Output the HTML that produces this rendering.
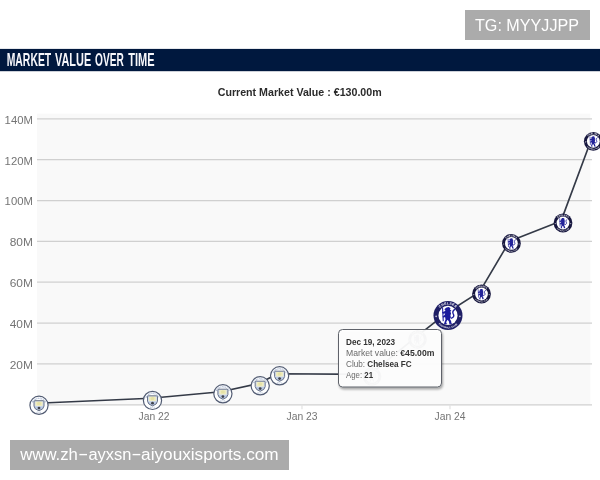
<!DOCTYPE html>
<html lang="en"><head><meta charset="utf-8"><title>Market value over time</title>
<style>
html,body{margin:0;padding:0;background:#fff;}
body{width:600px;height:480px;overflow:hidden;font-family:"Liberation Sans", Arial, Helvetica, sans-serif;}
svg{display:block}
</style></head><body>
<svg width="600" height="480" viewBox="0 0 600 480" font-family='"Liberation Sans", Arial, Helvetica, sans-serif'>
<defs><filter id="sh" x="-10%" y="-10%" width="125%" height="130%"><feGaussianBlur in="SourceAlpha" stdDeviation="1"/><feOffset dx="1" dy="1.5"/><feComponentTransfer><feFuncA type="linear" slope="0.35"/></feComponentTransfer><feMerge><feMergeNode/><feMergeNode in="SourceGraphic"/></feMerge></filter>
<clipPath id="cp"><rect x="0" y="0" width="600" height="480"/></clipPath></defs>
<rect width="600" height="480" fill="#fff"/>
<rect x="465" y="10" width="125" height="30" fill="#ababab"/>
<text x="475" y="30.7" font-size="16" fill="#fff" textLength="104" lengthAdjust="spacingAndGlyphs">TG: MYYJJPP</text>
<rect x="0" y="48.9" width="600" height="22.3" fill="#00183e"/>
<text y="66" font-size="18.6" font-weight="bold" fill="#f6f7fb" lengthAdjust="spacingAndGlyphs"><tspan x="6.7" textLength="44.5" lengthAdjust="spacingAndGlyphs">MARKET</tspan> <tspan x="55.0" textLength="36.2" lengthAdjust="spacingAndGlyphs">VALUE</tspan> <tspan x="95.0" textLength="28.7" lengthAdjust="spacingAndGlyphs">OVER</tspan> <tspan x="128.3" textLength="26.3" lengthAdjust="spacingAndGlyphs">TIME</tspan></text>
<text x="217.7" y="96" font-size="11.2" font-weight="bold" fill="#2b2b2b" textLength="164" lengthAdjust="spacingAndGlyphs">Current Market Value : €130.00m</text>
<rect x="37" y="113.6" width="553.3" height="291.4" fill="#f9f9f9"/>
<line x1="37" x2="592" y1="118.80" y2="118.80" stroke="#d0d0d0" stroke-width="1.25"/>
<text x="4.6" y="123.65" font-size="11.2" fill="#747474" textLength="28.3" lengthAdjust="spacingAndGlyphs">140M</text>
<line x1="37" x2="592" y1="159.65" y2="159.65" stroke="#d0d0d0" stroke-width="1.25"/>
<text x="4.6" y="164.50" font-size="11.2" fill="#747474" textLength="28.3" lengthAdjust="spacingAndGlyphs">120M</text>
<line x1="37" x2="592" y1="200.50" y2="200.50" stroke="#d0d0d0" stroke-width="1.25"/>
<text x="4.6" y="205.35" font-size="11.2" fill="#747474" textLength="28.3" lengthAdjust="spacingAndGlyphs">100M</text>
<line x1="37" x2="592" y1="241.35" y2="241.35" stroke="#d0d0d0" stroke-width="1.25"/>
<text x="9.7" y="246.20" font-size="11.2" fill="#747474" textLength="23.2" lengthAdjust="spacingAndGlyphs">80M</text>
<line x1="37" x2="592" y1="282.20" y2="282.20" stroke="#d0d0d0" stroke-width="1.25"/>
<text x="9.7" y="287.05" font-size="11.2" fill="#747474" textLength="23.2" lengthAdjust="spacingAndGlyphs">60M</text>
<line x1="37" x2="592" y1="323.05" y2="323.05" stroke="#d0d0d0" stroke-width="1.25"/>
<text x="9.7" y="327.90" font-size="11.2" fill="#747474" textLength="23.2" lengthAdjust="spacingAndGlyphs">40M</text>
<line x1="37" x2="592" y1="363.90" y2="363.90" stroke="#d0d0d0" stroke-width="1.25"/>
<text x="9.7" y="368.75" font-size="11.2" fill="#747474" textLength="23.2" lengthAdjust="spacingAndGlyphs">20M</text>
<line x1="37" x2="592" y1="404.75" y2="404.75" stroke="#d0d0d0" stroke-width="1.25"/>
<line x1="154" x2="154" y1="404.75" y2="409.25" stroke="#e2e2e2" stroke-width="1.2"/>
<text x="138.5" y="420" font-size="11.5" fill="#747474" textLength="31" lengthAdjust="spacingAndGlyphs">Jan 22</text>
<line x1="302" x2="302" y1="404.75" y2="409.25" stroke="#e2e2e2" stroke-width="1.2"/>
<text x="286.5" y="420" font-size="11.5" fill="#747474" textLength="31" lengthAdjust="spacingAndGlyphs">Jan 23</text>
<line x1="450" x2="450" y1="404.75" y2="409.25" stroke="#e2e2e2" stroke-width="1.2"/>
<text x="434.5" y="420" font-size="11.5" fill="#747474" textLength="31" lengthAdjust="spacingAndGlyphs">Jan 24</text>
<path d="M37.1 403.2 L150.6 398.3 L221.0 391.7 L258.3 383.7 L277.7 373.7 L370.1 374.4 L415.6 337.4 L446.1 313.3 L479.6 291.9 L509.5 241.3 L561.1 220.9 L591.4 139.2" fill="none" stroke="#343a47" stroke-width="1.65" stroke-linejoin="round"/>
<g transform="translate(39 405.3) scale(0.1)" opacity="1">
<circle r="91" fill="#fdfeff" stroke="#525c73" stroke-width="12"/>
<path id="mt1" d="M-64 0 A64 64 0 0 1 64 0" fill="none"/>
<path id="mb1" d="M-79 0 A79 79 0 0 0 79 0" fill="none"/>
<text font-size="20" font-weight="bold" fill="#92a4c6" text-anchor="middle" letter-spacing="1"><textPath href="#mt1" startOffset="50%">MANCHESTER</textPath></text>
<text font-size="20" font-weight="bold" fill="#9aabc9" text-anchor="middle" letter-spacing="3"><textPath href="#mb1" startOffset="50%">CITY</textPath></text>
<clipPath id="mc1"><path d="M-50 -36 Q-50 -46 -40 -46 H40 Q50 -46 50 -36 V8 Q48 40 0 55 Q-48 40 -50 8 Z"/></clipPath>
<g clip-path="url(#mc1)"><rect x="-60" y="-60" width="120" height="120" fill="#d3ddef"/><rect x="-36" y="-38" width="72" height="46" rx="8" fill="#efecc0"/>
<path d="M-20 -26 L0 -36 L20 -26 L16 -4 H-16 Z" fill="#e6e2a6"/>
<path d="M-50 12 L50 12 L50 20 L0 60 L-50 20 Z" fill="#bccbe6"/>
<circle cx="0" cy="28" r="14" fill="#3f424c"/></g>
<path d="M-50 -36 Q-50 -46 -40 -46 H40 Q50 -46 50 -36 V8 Q48 40 0 55 Q-48 40 -50 8 Z" fill="none" stroke="#5a6479" stroke-width="9"/>
</g>
<g transform="translate(152.5 400.4) scale(0.1)" opacity="1">
<circle r="91" fill="#fdfeff" stroke="#525c73" stroke-width="12"/>
<path id="mt2" d="M-64 0 A64 64 0 0 1 64 0" fill="none"/>
<path id="mb2" d="M-79 0 A79 79 0 0 0 79 0" fill="none"/>
<text font-size="20" font-weight="bold" fill="#92a4c6" text-anchor="middle" letter-spacing="1"><textPath href="#mt2" startOffset="50%">MANCHESTER</textPath></text>
<text font-size="20" font-weight="bold" fill="#9aabc9" text-anchor="middle" letter-spacing="3"><textPath href="#mb2" startOffset="50%">CITY</textPath></text>
<clipPath id="mc2"><path d="M-50 -36 Q-50 -46 -40 -46 H40 Q50 -46 50 -36 V8 Q48 40 0 55 Q-48 40 -50 8 Z"/></clipPath>
<g clip-path="url(#mc2)"><rect x="-60" y="-60" width="120" height="120" fill="#d3ddef"/><rect x="-36" y="-38" width="72" height="46" rx="8" fill="#efecc0"/>
<path d="M-20 -26 L0 -36 L20 -26 L16 -4 H-16 Z" fill="#e6e2a6"/>
<path d="M-50 12 L50 12 L50 20 L0 60 L-50 20 Z" fill="#bccbe6"/>
<circle cx="0" cy="28" r="14" fill="#3f424c"/></g>
<path d="M-50 -36 Q-50 -46 -40 -46 H40 Q50 -46 50 -36 V8 Q48 40 0 55 Q-48 40 -50 8 Z" fill="none" stroke="#5a6479" stroke-width="9"/>
</g>
<g transform="translate(222.9 393.8) scale(0.1)" opacity="1">
<circle r="91" fill="#fdfeff" stroke="#525c73" stroke-width="12"/>
<path id="mt3" d="M-64 0 A64 64 0 0 1 64 0" fill="none"/>
<path id="mb3" d="M-79 0 A79 79 0 0 0 79 0" fill="none"/>
<text font-size="20" font-weight="bold" fill="#92a4c6" text-anchor="middle" letter-spacing="1"><textPath href="#mt3" startOffset="50%">MANCHESTER</textPath></text>
<text font-size="20" font-weight="bold" fill="#9aabc9" text-anchor="middle" letter-spacing="3"><textPath href="#mb3" startOffset="50%">CITY</textPath></text>
<clipPath id="mc3"><path d="M-50 -36 Q-50 -46 -40 -46 H40 Q50 -46 50 -36 V8 Q48 40 0 55 Q-48 40 -50 8 Z"/></clipPath>
<g clip-path="url(#mc3)"><rect x="-60" y="-60" width="120" height="120" fill="#d3ddef"/><rect x="-36" y="-38" width="72" height="46" rx="8" fill="#efecc0"/>
<path d="M-20 -26 L0 -36 L20 -26 L16 -4 H-16 Z" fill="#e6e2a6"/>
<path d="M-50 12 L50 12 L50 20 L0 60 L-50 20 Z" fill="#bccbe6"/>
<circle cx="0" cy="28" r="14" fill="#3f424c"/></g>
<path d="M-50 -36 Q-50 -46 -40 -46 H40 Q50 -46 50 -36 V8 Q48 40 0 55 Q-48 40 -50 8 Z" fill="none" stroke="#5a6479" stroke-width="9"/>
</g>
<g transform="translate(260.2 385.8) scale(0.1)" opacity="1">
<circle r="91" fill="#fdfeff" stroke="#525c73" stroke-width="12"/>
<path id="mt4" d="M-64 0 A64 64 0 0 1 64 0" fill="none"/>
<path id="mb4" d="M-79 0 A79 79 0 0 0 79 0" fill="none"/>
<text font-size="20" font-weight="bold" fill="#92a4c6" text-anchor="middle" letter-spacing="1"><textPath href="#mt4" startOffset="50%">MANCHESTER</textPath></text>
<text font-size="20" font-weight="bold" fill="#9aabc9" text-anchor="middle" letter-spacing="3"><textPath href="#mb4" startOffset="50%">CITY</textPath></text>
<clipPath id="mc4"><path d="M-50 -36 Q-50 -46 -40 -46 H40 Q50 -46 50 -36 V8 Q48 40 0 55 Q-48 40 -50 8 Z"/></clipPath>
<g clip-path="url(#mc4)"><rect x="-60" y="-60" width="120" height="120" fill="#d3ddef"/><rect x="-36" y="-38" width="72" height="46" rx="8" fill="#efecc0"/>
<path d="M-20 -26 L0 -36 L20 -26 L16 -4 H-16 Z" fill="#e6e2a6"/>
<path d="M-50 12 L50 12 L50 20 L0 60 L-50 20 Z" fill="#bccbe6"/>
<circle cx="0" cy="28" r="14" fill="#3f424c"/></g>
<path d="M-50 -36 Q-50 -46 -40 -46 H40 Q50 -46 50 -36 V8 Q48 40 0 55 Q-48 40 -50 8 Z" fill="none" stroke="#5a6479" stroke-width="9"/>
</g>
<g transform="translate(279.6 375.8) scale(0.1)" opacity="1">
<circle r="91" fill="#fdfeff" stroke="#525c73" stroke-width="12"/>
<path id="mt5" d="M-64 0 A64 64 0 0 1 64 0" fill="none"/>
<path id="mb5" d="M-79 0 A79 79 0 0 0 79 0" fill="none"/>
<text font-size="20" font-weight="bold" fill="#92a4c6" text-anchor="middle" letter-spacing="1"><textPath href="#mt5" startOffset="50%">MANCHESTER</textPath></text>
<text font-size="20" font-weight="bold" fill="#9aabc9" text-anchor="middle" letter-spacing="3"><textPath href="#mb5" startOffset="50%">CITY</textPath></text>
<clipPath id="mc5"><path d="M-50 -36 Q-50 -46 -40 -46 H40 Q50 -46 50 -36 V8 Q48 40 0 55 Q-48 40 -50 8 Z"/></clipPath>
<g clip-path="url(#mc5)"><rect x="-60" y="-60" width="120" height="120" fill="#d3ddef"/><rect x="-36" y="-38" width="72" height="46" rx="8" fill="#efecc0"/>
<path d="M-20 -26 L0 -36 L20 -26 L16 -4 H-16 Z" fill="#e6e2a6"/>
<path d="M-50 12 L50 12 L50 20 L0 60 L-50 20 Z" fill="#bccbe6"/>
<circle cx="0" cy="28" r="14" fill="#3f424c"/></g>
<path d="M-50 -36 Q-50 -46 -40 -46 H40 Q50 -46 50 -36 V8 Q48 40 0 55 Q-48 40 -50 8 Z" fill="none" stroke="#5a6479" stroke-width="9"/>
</g>
<g transform="translate(372 376.5) scale(0.0989)" opacity="1">
<circle r="94" fill="#666a72"/><circle r="64" fill="#fff"/>
<path id="ct1" d="M-70.7 0 A70.7 70.7 0 0 1 70.7 0" fill="none"/>
<path id="cb1" d="M-84 0 A84 84 0 0 0 84 0" fill="none"/>
<text font-size="22" font-weight="bold" fill="#fff" text-anchor="middle" letter-spacing="2"><textPath href="#ct1" startOffset="50%">CHELSEA</textPath></text>
<text font-size="15" font-weight="bold" fill="#fff" text-anchor="middle" letter-spacing="1"><textPath href="#cb1" startOffset="50%">FOOTBALL CLUB</textPath></text>
<circle cx="-77" cy="6" r="6" fill="#fff" opacity="0.7"/><circle cx="77" cy="6" r="6" fill="#fff" opacity="0.7"/>
<g transform="scale(9.4)" fill="#7a7e88" stroke="#7a7e88" stroke-width="0"><path d="M-0.9 -5.2 L0.5 -5.4 L1.6 -4.6 L1.3 -3.6 L2.2 -3.2 L1.5 -2.4 L2 -1.4 L1.6 0 L1.9 1.4 L1.2 2.4 L2 3.6 L2.2 5 L3 5.4 L0.9 5.5 L0.6 4 L-0.2 2.8 L-0.9 3.8 L-1.2 5 L-0.4 5.5 L-2.6 5.5 L-2.2 4.2 L-1.6 2.6 L-1.9 1 L-3 1.6 L-3.6 0.8 L-2.2 -0.2 L-1.8 -1.2 L-3.2 -1 L-3.9 -2 L-2.4 -2.6 L-1.6 -3.4 L-2.4 -4 L-1.6 -4.6 Z"/>
<path d="M2.2 1.8 C3.6 1.6 4.2 0.2 3.4 -1 C2.8 -2 3.2 -3.2 4.2 -3.8" fill="none" stroke-width="0.9" stroke-linecap="round"/>
<path d="M-3.5 -4.6 L-3.1 3.4" fill="none" stroke-width="0.7" stroke-linecap="round"/></g>
</g>
<g transform="translate(417.5 339.5) scale(0.0989)" opacity="1">
<circle r="94" fill="#666a72"/><circle r="64" fill="#fff"/>
<path id="ct2" d="M-70.7 0 A70.7 70.7 0 0 1 70.7 0" fill="none"/>
<path id="cb2" d="M-84 0 A84 84 0 0 0 84 0" fill="none"/>
<text font-size="22" font-weight="bold" fill="#fff" text-anchor="middle" letter-spacing="2"><textPath href="#ct2" startOffset="50%">CHELSEA</textPath></text>
<text font-size="15" font-weight="bold" fill="#fff" text-anchor="middle" letter-spacing="1"><textPath href="#cb2" startOffset="50%">FOOTBALL CLUB</textPath></text>
<circle cx="-77" cy="6" r="6" fill="#fff" opacity="0.7"/><circle cx="77" cy="6" r="6" fill="#fff" opacity="0.7"/>
<g transform="scale(9.4)" fill="#7a7e88" stroke="#7a7e88" stroke-width="0"><path d="M-0.9 -5.2 L0.5 -5.4 L1.6 -4.6 L1.3 -3.6 L2.2 -3.2 L1.5 -2.4 L2 -1.4 L1.6 0 L1.9 1.4 L1.2 2.4 L2 3.6 L2.2 5 L3 5.4 L0.9 5.5 L0.6 4 L-0.2 2.8 L-0.9 3.8 L-1.2 5 L-0.4 5.5 L-2.6 5.5 L-2.2 4.2 L-1.6 2.6 L-1.9 1 L-3 1.6 L-3.6 0.8 L-2.2 -0.2 L-1.8 -1.2 L-3.2 -1 L-3.9 -2 L-2.4 -2.6 L-1.6 -3.4 L-2.4 -4 L-1.6 -4.6 Z"/>
<path d="M2.2 1.8 C3.6 1.6 4.2 0.2 3.4 -1 C2.8 -2 3.2 -3.2 4.2 -3.8" fill="none" stroke-width="0.9" stroke-linecap="round"/>
<path d="M-3.5 -4.6 L-3.1 3.4" fill="none" stroke-width="0.7" stroke-linecap="round"/></g>
</g>
<g transform="translate(448 315.4) scale(0.1543)" opacity="1">
<circle r="94" fill="#1f1f66"/><circle r="62" fill="#fff"/>
<path id="ct3" d="M-70.7 0 A70.7 70.7 0 0 1 70.7 0" fill="none"/>
<path id="cb3" d="M-84 0 A84 84 0 0 0 84 0" fill="none"/>
<text font-size="22" font-weight="bold" fill="#fff" text-anchor="middle" letter-spacing="2"><textPath href="#ct3" startOffset="50%">CHELSEA</textPath></text>
<text font-size="15" font-weight="bold" fill="#fff" text-anchor="middle" letter-spacing="1"><textPath href="#cb3" startOffset="50%">FOOTBALL CLUB</textPath></text>
<circle cx="-77" cy="6" r="6" fill="#fff" opacity="0.7"/><circle cx="77" cy="6" r="6" fill="#fff" opacity="0.7"/>
<g transform="scale(10)" fill="#1c1c9c" stroke="#1c1c9c" stroke-width="0"><path d="M-0.9 -5.2 L0.5 -5.4 L1.6 -4.6 L1.3 -3.6 L2.2 -3.2 L1.5 -2.4 L2 -1.4 L1.6 0 L1.9 1.4 L1.2 2.4 L2 3.6 L2.2 5 L3 5.4 L0.9 5.5 L0.6 4 L-0.2 2.8 L-0.9 3.8 L-1.2 5 L-0.4 5.5 L-2.6 5.5 L-2.2 4.2 L-1.6 2.6 L-1.9 1 L-3 1.6 L-3.6 0.8 L-2.2 -0.2 L-1.8 -1.2 L-3.2 -1 L-3.9 -2 L-2.4 -2.6 L-1.6 -3.4 L-2.4 -4 L-1.6 -4.6 Z"/>
<path d="M2.2 1.8 C3.6 1.6 4.2 0.2 3.4 -1 C2.8 -2 3.2 -3.2 4.2 -3.8" fill="none" stroke-width="0.9" stroke-linecap="round"/>
<path d="M-3.5 -4.6 L-3.1 3.4" fill="none" stroke-width="0.7" stroke-linecap="round"/></g>
</g>
<g transform="translate(481.5 294) scale(0.1000)" opacity="1">
<circle r="94" fill="#17173f"/><circle r="64" fill="#fff"/>
<path id="ct4" d="M-70.7 0 A70.7 70.7 0 0 1 70.7 0" fill="none"/>
<path id="cb4" d="M-84 0 A84 84 0 0 0 84 0" fill="none"/>
<text font-size="22" font-weight="bold" fill="#fff" text-anchor="middle" letter-spacing="2"><textPath href="#ct4" startOffset="50%">CHELSEA</textPath></text>
<text font-size="15" font-weight="bold" fill="#fff" text-anchor="middle" letter-spacing="1"><textPath href="#cb4" startOffset="50%">FOOTBALL CLUB</textPath></text>
<circle cx="-77" cy="6" r="6" fill="#fff" opacity="0.7"/><circle cx="77" cy="6" r="6" fill="#fff" opacity="0.7"/>
<g transform="scale(9.4)" fill="#22229a" stroke="#22229a" stroke-width="0"><path d="M-0.9 -5.2 L0.5 -5.4 L1.6 -4.6 L1.3 -3.6 L2.2 -3.2 L1.5 -2.4 L2 -1.4 L1.6 0 L1.9 1.4 L1.2 2.4 L2 3.6 L2.2 5 L3 5.4 L0.9 5.5 L0.6 4 L-0.2 2.8 L-0.9 3.8 L-1.2 5 L-0.4 5.5 L-2.6 5.5 L-2.2 4.2 L-1.6 2.6 L-1.9 1 L-3 1.6 L-3.6 0.8 L-2.2 -0.2 L-1.8 -1.2 L-3.2 -1 L-3.9 -2 L-2.4 -2.6 L-1.6 -3.4 L-2.4 -4 L-1.6 -4.6 Z"/>
<path d="M2.2 1.8 C3.6 1.6 4.2 0.2 3.4 -1 C2.8 -2 3.2 -3.2 4.2 -3.8" fill="none" stroke-width="0.9" stroke-linecap="round"/>
<path d="M-3.5 -4.6 L-3.1 3.4" fill="none" stroke-width="0.7" stroke-linecap="round"/></g>
</g>
<g transform="translate(511.4 243.4) scale(0.1000)" opacity="1">
<circle r="94" fill="#17173f"/><circle r="64" fill="#fff"/>
<path id="ct5" d="M-70.7 0 A70.7 70.7 0 0 1 70.7 0" fill="none"/>
<path id="cb5" d="M-84 0 A84 84 0 0 0 84 0" fill="none"/>
<text font-size="22" font-weight="bold" fill="#fff" text-anchor="middle" letter-spacing="2"><textPath href="#ct5" startOffset="50%">CHELSEA</textPath></text>
<text font-size="15" font-weight="bold" fill="#fff" text-anchor="middle" letter-spacing="1"><textPath href="#cb5" startOffset="50%">FOOTBALL CLUB</textPath></text>
<circle cx="-77" cy="6" r="6" fill="#fff" opacity="0.7"/><circle cx="77" cy="6" r="6" fill="#fff" opacity="0.7"/>
<g transform="scale(9.4)" fill="#22229a" stroke="#22229a" stroke-width="0"><path d="M-0.9 -5.2 L0.5 -5.4 L1.6 -4.6 L1.3 -3.6 L2.2 -3.2 L1.5 -2.4 L2 -1.4 L1.6 0 L1.9 1.4 L1.2 2.4 L2 3.6 L2.2 5 L3 5.4 L0.9 5.5 L0.6 4 L-0.2 2.8 L-0.9 3.8 L-1.2 5 L-0.4 5.5 L-2.6 5.5 L-2.2 4.2 L-1.6 2.6 L-1.9 1 L-3 1.6 L-3.6 0.8 L-2.2 -0.2 L-1.8 -1.2 L-3.2 -1 L-3.9 -2 L-2.4 -2.6 L-1.6 -3.4 L-2.4 -4 L-1.6 -4.6 Z"/>
<path d="M2.2 1.8 C3.6 1.6 4.2 0.2 3.4 -1 C2.8 -2 3.2 -3.2 4.2 -3.8" fill="none" stroke-width="0.9" stroke-linecap="round"/>
<path d="M-3.5 -4.6 L-3.1 3.4" fill="none" stroke-width="0.7" stroke-linecap="round"/></g>
</g>
<g transform="translate(563 223) scale(0.1000)" opacity="1">
<circle r="94" fill="#17173f"/><circle r="64" fill="#fff"/>
<path id="ct6" d="M-70.7 0 A70.7 70.7 0 0 1 70.7 0" fill="none"/>
<path id="cb6" d="M-84 0 A84 84 0 0 0 84 0" fill="none"/>
<text font-size="22" font-weight="bold" fill="#fff" text-anchor="middle" letter-spacing="2"><textPath href="#ct6" startOffset="50%">CHELSEA</textPath></text>
<text font-size="15" font-weight="bold" fill="#fff" text-anchor="middle" letter-spacing="1"><textPath href="#cb6" startOffset="50%">FOOTBALL CLUB</textPath></text>
<circle cx="-77" cy="6" r="6" fill="#fff" opacity="0.7"/><circle cx="77" cy="6" r="6" fill="#fff" opacity="0.7"/>
<g transform="scale(9.4)" fill="#22229a" stroke="#22229a" stroke-width="0"><path d="M-0.9 -5.2 L0.5 -5.4 L1.6 -4.6 L1.3 -3.6 L2.2 -3.2 L1.5 -2.4 L2 -1.4 L1.6 0 L1.9 1.4 L1.2 2.4 L2 3.6 L2.2 5 L3 5.4 L0.9 5.5 L0.6 4 L-0.2 2.8 L-0.9 3.8 L-1.2 5 L-0.4 5.5 L-2.6 5.5 L-2.2 4.2 L-1.6 2.6 L-1.9 1 L-3 1.6 L-3.6 0.8 L-2.2 -0.2 L-1.8 -1.2 L-3.2 -1 L-3.9 -2 L-2.4 -2.6 L-1.6 -3.4 L-2.4 -4 L-1.6 -4.6 Z"/>
<path d="M2.2 1.8 C3.6 1.6 4.2 0.2 3.4 -1 C2.8 -2 3.2 -3.2 4.2 -3.8" fill="none" stroke-width="0.9" stroke-linecap="round"/>
<path d="M-3.5 -4.6 L-3.1 3.4" fill="none" stroke-width="0.7" stroke-linecap="round"/></g>
</g>
<g transform="translate(593.3 141.3) scale(0.1000)" opacity="1">
<circle r="94" fill="#17173f"/><circle r="64" fill="#fff"/>
<path id="ct7" d="M-70.7 0 A70.7 70.7 0 0 1 70.7 0" fill="none"/>
<path id="cb7" d="M-84 0 A84 84 0 0 0 84 0" fill="none"/>
<text font-size="22" font-weight="bold" fill="#fff" text-anchor="middle" letter-spacing="2"><textPath href="#ct7" startOffset="50%">CHELSEA</textPath></text>
<text font-size="15" font-weight="bold" fill="#fff" text-anchor="middle" letter-spacing="1"><textPath href="#cb7" startOffset="50%">FOOTBALL CLUB</textPath></text>
<circle cx="-77" cy="6" r="6" fill="#fff" opacity="0.7"/><circle cx="77" cy="6" r="6" fill="#fff" opacity="0.7"/>
<g transform="scale(9.4)" fill="#22229a" stroke="#22229a" stroke-width="0"><path d="M-0.9 -5.2 L0.5 -5.4 L1.6 -4.6 L1.3 -3.6 L2.2 -3.2 L1.5 -2.4 L2 -1.4 L1.6 0 L1.9 1.4 L1.2 2.4 L2 3.6 L2.2 5 L3 5.4 L0.9 5.5 L0.6 4 L-0.2 2.8 L-0.9 3.8 L-1.2 5 L-0.4 5.5 L-2.6 5.5 L-2.2 4.2 L-1.6 2.6 L-1.9 1 L-3 1.6 L-3.6 0.8 L-2.2 -0.2 L-1.8 -1.2 L-3.2 -1 L-3.9 -2 L-2.4 -2.6 L-1.6 -3.4 L-2.4 -4 L-1.6 -4.6 Z"/>
<path d="M2.2 1.8 C3.6 1.6 4.2 0.2 3.4 -1 C2.8 -2 3.2 -3.2 4.2 -3.8" fill="none" stroke-width="0.9" stroke-linecap="round"/>
<path d="M-3.5 -4.6 L-3.1 3.4" fill="none" stroke-width="0.7" stroke-linecap="round"/></g>
</g>
<g filter="url(#sh)"><rect x="338.5" y="329.5" width="103" height="57.5" rx="4" ry="4" fill="#fff" fill-opacity="0.93" stroke="#5e626a" stroke-width="1"/></g>
<g font-size="9.4" fill="#6b6b6b" lengthAdjust="spacingAndGlyphs">
<text x="346" y="345" font-weight="bold" fill="#333" textLength="49" lengthAdjust="spacingAndGlyphs">Dec 19, 2023</text>
<text x="346" y="355.7" textLength="88.4" lengthAdjust="spacingAndGlyphs">Market value: <tspan font-weight="bold" fill="#333">€45.00m</tspan></text>
<text x="346" y="366.5" textLength="65.6" lengthAdjust="spacingAndGlyphs">Club: <tspan font-weight="bold" fill="#333">Chelsea FC</tspan></text>
<text x="346" y="377.5" textLength="27" lengthAdjust="spacingAndGlyphs">Age: <tspan font-weight="bold" fill="#333">21</tspan></text>
</g>
<rect x="10" y="440" width="279" height="30" fill="#ababab"/>
<text y="460" font-size="16" fill="#fff" lengthAdjust="spacingAndGlyphs"><tspan x="20.3" textLength="57.6" lengthAdjust="spacingAndGlyphs">www.zh</tspan><tspan x="78.1" dy="-0.9" textLength="10.4" lengthAdjust="spacingAndGlyphs">-</tspan><tspan x="88.4" dy="0.9" textLength="43" lengthAdjust="spacingAndGlyphs">ayxsn</tspan><tspan x="131.2" dy="-0.9" textLength="10.4" lengthAdjust="spacingAndGlyphs">-</tspan><tspan x="141.1" dy="0.9" textLength="137.6" lengthAdjust="spacingAndGlyphs">aiyouxisports.com</tspan></text>
</svg>
</body></html>
